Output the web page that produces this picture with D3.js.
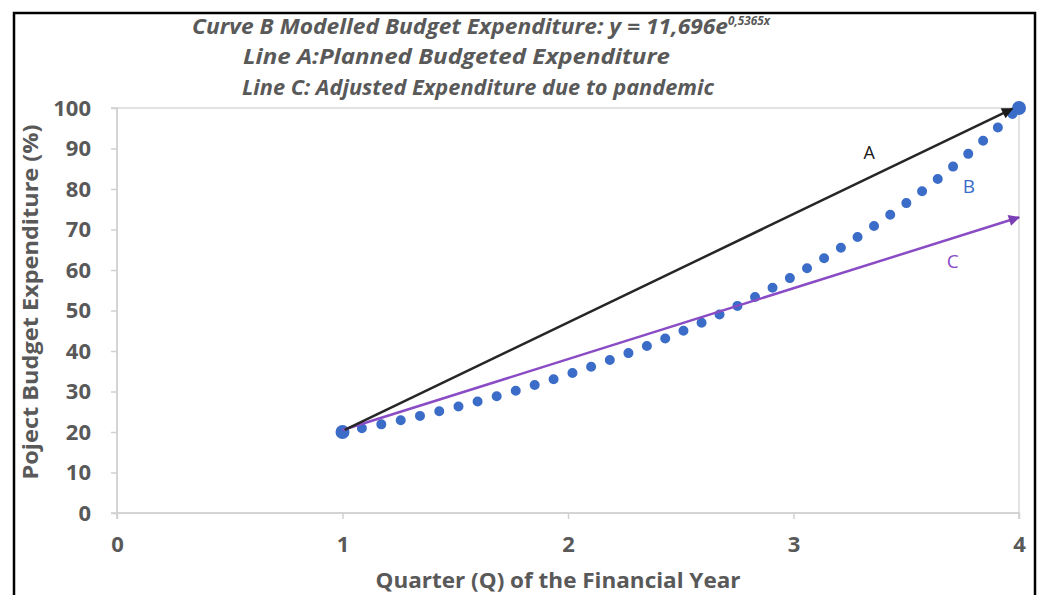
<!DOCTYPE html>
<html>
<head>
<meta charset="utf-8">
<script src="https://cdn.jsdelivr.net/npm/d3@7"></script>
<style>
  body { margin: 0; background: #fff; }
  text { font-family: "Open Sans", sans-serif; fill: #595959; }
</style>
</head>
<body>
<script>
// values
var quarters = [1, 4];
var budget = [20, 100];
var curveX = [1, 1.25, 1.5, 1.75, 2, 2.25, 2.5, 2.75, 3, 3.25, 3.5, 3.75, 4];
var curveB = [20, 22.8, 26.1, 29.9, 34.2, 39.1, 44.7, 51.1, 58.5, 66.9, 76.5, 87.5, 100];
var lineA = [[1.01, 20.5], [3.97, 99.8]];
var lineC = [[1, 20.5], [4, 73]];
var xTicks = [0, 1, 2, 3, 4];
var yTicks = [0, 10, 20, 30, 40, 50, 60, 70, 80, 90, 100];
var titles = ["Line A:Planned Budgeted Expenditure", "Line C: Adjusted Expenditure due to pandemic"];

var svgWidth = 1041;
var svgHeight = 595;
var margin = { top: 108, right: 22, bottom: 82, left: 117 };
var chartWidth = svgWidth - margin.left - margin.right;
var chartHeight = svgHeight - margin.top - margin.bottom;

var svg = d3.select("body").append("svg")
  .attr("width", svgWidth)
  .attr("height", svgHeight);

// frame
svg.append("rect")
  .attr("x", 14).attr("y", 13)
  .attr("width", 1021).attr("height", 600)
  .attr("fill", "none").attr("stroke", "#000").attr("stroke-width", 2.5);

var defs = svg.append("defs");
function arrow(id, color) {
  defs.append("marker")
    .attr("id", id)
    .attr("viewBox", "0 0 10 10")
    .attr("refX", 9).attr("refY", 5)
    .attr("markerWidth", 5.5).attr("markerHeight", 4.5)
    .attr("markerUnits", "strokeWidth")
    .attr("orient", "auto")
    .append("path").attr("d", "M0,0L10,5L0,10z").attr("fill", color);
}
arrow("arrA", "#1a1a1a");
arrow("arrC", "#7b3fb5");

var chartGroup = svg.append("g")
  .attr("transform", `translate(${margin.left}, ${margin.top})`);

var xScale = d3.scaleLinear().domain([0, 4]).range([0, chartWidth]);
var yScale = d3.scaleLinear().domain([0, 100]).range([chartHeight, 0]);

// plot border
chartGroup.append("rect")
  .attr("width", chartWidth).attr("height", chartHeight)
  .attr("fill", "none").attr("stroke", "#d9d9d9").attr("stroke-width", 1.5);

var bottomAxis = d3.axisBottom(xScale).tickValues(xTicks).tickSize(6).tickPadding(17).tickFormat(d3.format("d"));
var leftAxis = d3.axisLeft(yScale).tickValues(yTicks).tickSize(6).tickPadding(20);

var gx = chartGroup.append("g")
  .attr("transform", `translate(0, ${chartHeight})`)
  .call(bottomAxis);
var gy = chartGroup.append("g").call(leftAxis);

[gx, gy].forEach(function(g) {
  g.selectAll("path, line").attr("stroke", "#d0d0d0").attr("stroke-width", 1.5);
  g.selectAll("text")
    .attr("fill", "#595959")
    .style("font-size", "22px")
    .style("font-weight", "bold")
    .style("font-family", "'Open Sans', sans-serif");
});
gx.select(".domain").attr("d", `M0,6V0H${chartWidth}V6`);
gy.select(".domain").attr("d", `M-6,${chartHeight}H0V0H-6`);

// curve B (dotted trend)
var line = d3.line()
  .x(d => xScale(d[0]))
  .y(d => yScale(d[1]))
  .curve(d3.curveMonotoneX);

chartGroup.append("path")
  .datum(curveX.map((x, i) => [x, curveB[i]]))
  .attr("d", line)
  .attr("fill", "none")
  .attr("stroke", "#3a6cc8")
  .attr("stroke-width", 10)
  .attr("stroke-linecap", "round")
  .attr("stroke-dasharray", "0 19.8");

// data markers
chartGroup.selectAll(".pt")
  .data(quarters)
  .enter()
  .append("circle")
  .attr("class", "pt")
  .attr("cx", d => xScale(d))
  .attr("cy", (d, i) => yScale(budget[i]))
  .attr("r", 7)
  .attr("fill", "#3a6cc8");

// line C
chartGroup.append("path")
  .datum(lineC)
  .attr("d", d3.line().x(d => xScale(d[0])).y(d => yScale(d[1])))
  .attr("stroke", "#8a4cc4")
  .attr("stroke-width", 2.5)
  .attr("marker-end", "url(#arrC)");

// line A
chartGroup.append("path")
  .datum(lineA)
  .attr("d", d3.line().x(d => xScale(d[0])).y(d => yScale(d[1])))
  .attr("stroke", "#262626")
  .attr("stroke-width", 2.5)
  .attr("marker-end", "url(#arrA)");

// curve labels
chartGroup.append("text").attr("x", xScale(3.31)).attr("y", yScale(87.3)).text("A")
  .style("font-size", "18px").style("fill", "#1a1a1a");
chartGroup.append("text").attr("x", xScale(3.75)).attr("y", yScale(79)).text("B")
  .style("font-size", "19px").style("fill", "#3a6cc8");
chartGroup.append("text").attr("x", xScale(3.68)).attr("y", yScale(60.5)).text("C")
  .style("font-size", "19px").style("fill", "#8a4cc4");

// title lines
var t1 = svg.append("text")
  .attr("x", 192).attr("y", 34)
  .style("font-size", "21px").style("font-weight", "bold").style("font-style", "italic");
t1.append("tspan").text("Curve B Modelled Budget Expenditure: y = 11,696e")
  .attr("textLength", 536).attr("lengthAdjust", "spacingAndGlyphs");
t1.append("tspan").text("0,5365x").attr("dy", -9).style("font-size", "12px")
  .attr("textLength", 42).attr("lengthAdjust", "spacingAndGlyphs");

var titleX = [243, 242];
var titleW = [427, 472];
titles.forEach(function(t, i) {
  svg.append("text")
    .attr("x", titleX[i]).attr("y", 64 + i * 31)
    .style("font-size", "21px").style("font-weight", "bold").style("font-style", "italic")
    .attr("textLength", titleW[i]).attr("lengthAdjust", "spacingAndGlyphs")
    .text(t);
});

// axis titles
chartGroup.append("text")
  .attr("transform", "rotate(-90)")
  .attr("x", -(302 - margin.top))
  .attr("y", 38 - margin.left)
  .attr("text-anchor", "middle")
  .style("font-size", "22px").style("font-weight", "bold")
  .attr("textLength", 355).attr("lengthAdjust", "spacingAndGlyphs")
  .text("Poject Budget Expenditure (%)");

chartGroup.append("text")
  .attr("x", 558 - margin.left)
  .attr("y", 588 - margin.top)
  .attr("text-anchor", "middle")
  .style("font-size", "22px").style("font-weight", "bold")
  .attr("textLength", 365).attr("lengthAdjust", "spacingAndGlyphs")
  .text("Quarter (Q) of the Financial Year");
</script>
</body>
</html>
